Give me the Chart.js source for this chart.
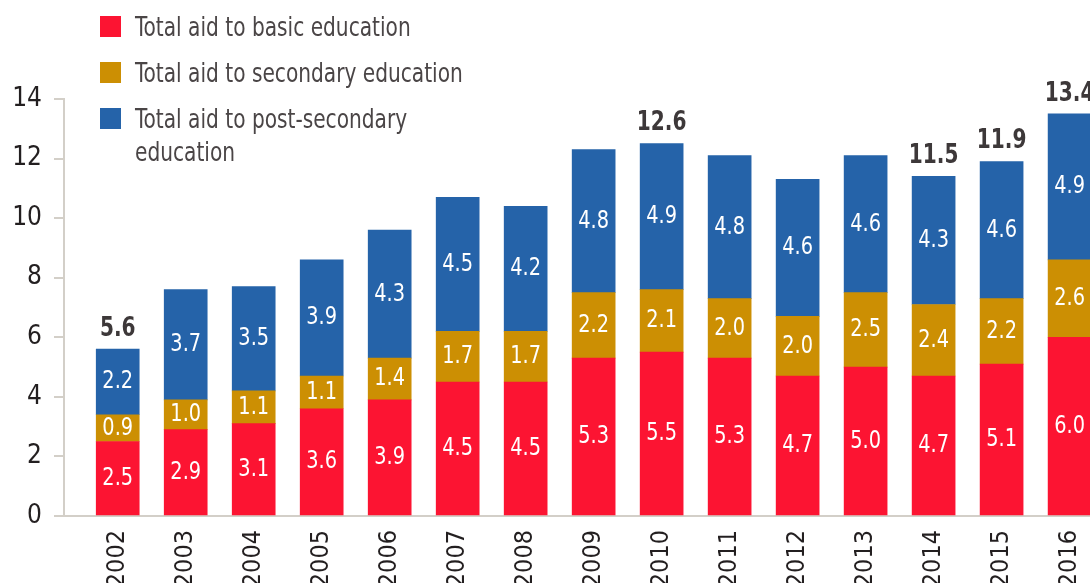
<!DOCTYPE html>
<html lang="en">
<head>
<meta charset="UTF-8">
<title>Aid to education, 2002-2016</title>
<script src="https://cdn.jsdelivr.net/npm/chart.js@4"></script>
<style>
  body { margin: 0; background: #fff; }
  #wrap { position: relative; width: 1090px; height: 583px; }
  #legend {
    position: absolute; left: 100px; top: 10px;
    font-family: "Liberation Sans Narrow", "DejaVu Sans Condensed", sans-serif;
    font-size: 27px; color: #4a4546;
  }
  .item { position: relative; padding-left: 35px; line-height: 33px; margin-bottom: 13px; white-space: nowrap; }
  .item span { position: absolute; left: 0; top: 6px; width: 21px; height: 21px; }
  .item em { font-style: normal; display: inline-block; transform: scaleX(0.83); transform-origin: left center; }
</style>
</head>
<body>
<div id="wrap">
  <canvas id="aidChart"></canvas>
  <div id="legend">
    <div class="item"><span style="background:#fc1432"></span><em>Total aid to basic education</em></div>
    <div class="item"><span style="background:#cc8f03"></span><em>Total aid to secondary education</em></div>
    <div class="item"><span style="background:#2563a9"></span><em>Total aid to post-secondary<br>education</em></div>
  </div>
</div>

<script>
  // Datos (miles de millones)
  const years = [2002, 2003, 2004, 2005, 2006, 2007, 2008, 2009, 2010, 2011, 2012, 2013, 2014, 2015, 2016];
  const basic = [2.5, 2.9, 3.1, 3.6, 3.9, 4.5, 4.5, 5.3, 5.5, 5.3, 4.7, 5.0, 4.7, 5.1, 6.0];
  const secondary = [0.9, 1.0, 1.1, 1.1, 1.4, 1.7, 1.7, 2.2, 2.1, 2.0, 2.0, 2.5, 2.4, 2.2, 2.6];
  const postSecondary = [2.2, 3.7, 3.5, 3.9, 4.3, 4.5, 4.2, 4.8, 4.9, 4.8, 4.6, 4.6, 4.3, 4.6, 4.9];
  const totals = [5.6, null, null, null, null, null, null, null, 12.6, null, null, null, 11.5, 11.9, 13.4];
  const yTicks = [0, 2, 4, 6, 8, 10, 12, 14];

  const FONT = '"Liberation Sans Narrow", "DejaVu Sans Condensed", sans-serif';
  const AXIS = '#d3cfc8';

  // Texto estrecho centrado
  function narrowText(ctx, text, x, y) {
    ctx.save();
    ctx.translate(x, y);
    ctx.scale(0.86, 1);
    ctx.fillText(text, 0, 0);
    ctx.restore();
  }

  // Etiquetas dentro de las barras y totales arriba
  const barLabels = {
    id: 'barLabels',
    afterDatasetsDraw(chart) {
      const ctx = chart.ctx;
      ctx.save();
      ctx.textAlign = 'center';
      ctx.textBaseline = 'middle';
      ctx.font = '25px ' + FONT;
      ctx.fillStyle = '#ffffff';
      chart.data.datasets.forEach((ds, i) => {
        chart.getDatasetMeta(i).data.forEach((bar, j) => {
          narrowText(ctx, ds.data[j].toFixed(1), bar.x, (bar.y + bar.base) / 2);
        });
      });
      const topBars = chart.getDatasetMeta(2).data;
      ctx.font = 'bold 26px ' + FONT;
      ctx.fillStyle = '#3d3839';
      ctx.textBaseline = 'bottom';
      totals.forEach((t, j) => {
        if (t !== null) narrowText(ctx, t.toFixed(1), topBars[j].x, topBars[j].y - 7);
      });
      ctx.restore();
    }
  };

  new Chart(document.getElementById('aidChart'), {
    type: 'bar',
    data: {
      labels: years,
      datasets: [
        { label: 'Total aid to basic education', data: basic, backgroundColor: '#fc1432' },
        { label: 'Total aid to secondary education', data: secondary, backgroundColor: '#cc8f03' },
        { label: 'Total aid to post-secondary education', data: postSecondary, backgroundColor: '#2563a9' }
      ]
    },
    options: {
      responsive: true,
      maintainAspectRatio: false,
      animation: false,
      layout: { padding: { top: 99, right: 0, left: 0, bottom: 0 } },
      datasets: { bar: { barThickness: 43, borderWidth: 0 } },
      plugins: { legend: { display: false }, tooltip: { enabled: false } },
      scales: {
        x: {
          type: 'linear',
          stacked: true,
          offset: false,
          min: 2001.21,
          max: 2016.3,
          afterBuildTicks: s => { s.ticks = years.map(v => ({ value: v })); },
          afterFit: s => { s.height = 67; s.paddingLeft = 0; s.paddingRight = 0; },
          grid: { display: false, offset: false },
          border: { display: true, color: AXIS, width: 2 },
          ticks: {
            minRotation: 90, maxRotation: 90, autoSkip: false, padding: 6,
            color: '#231f20', font: { size: 25, family: FONT },
            callback: v => String(v)
          }
        },
        y: {
          stacked: true,
          min: 0,
          max: 14,
          afterBuildTicks: s => { s.ticks = yTicks.map(v => ({ value: v })); },
          afterFit: s => { s.width = 64; },
          grid: { drawOnChartArea: false, drawTicks: true, tickLength: 10, color: AXIS, lineWidth: 2 },
          border: { display: true, color: AXIS, width: 2 },
          ticks: { padding: 12, color: '#231f20', font: { size: 26, family: FONT } }
        }
      }
    },
    plugins: [barLabels]
  });
</script>
</body>
</html>
